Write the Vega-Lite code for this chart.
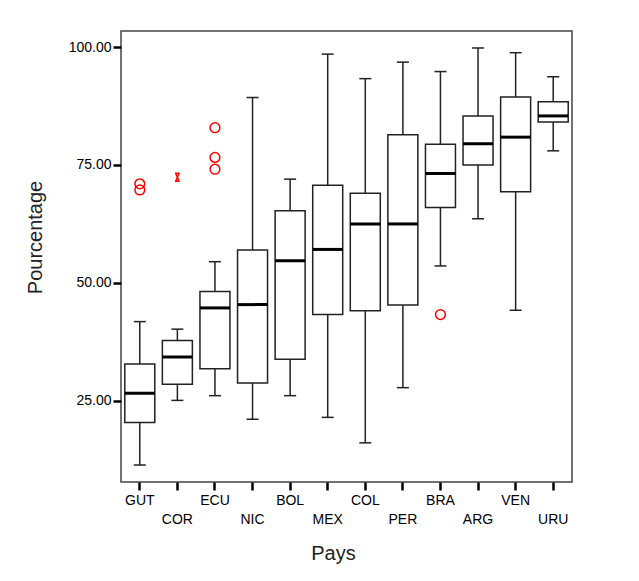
{
  "$schema": "https://vega.github.io/schema/vega-lite/v6.json",
  "width": 451,
  "height": 451,
  "autosize": {"type": "none"},
  "padding": {"left": 121, "top": 31, "right": 67, "bottom": 99},
  "background": "white",
  "config": {
    "font": "Liberation Sans",
    "view": {"stroke": "#444", "strokeWidth": 1.5},
    "axis": {"domain": false, "grid": false, "labelColor": "black", "labelFont": "Liberation Sans", "titleFont": "Liberation Sans", "titleFontWeight": "normal"}
  },
  "datasets": {
    "boxes": [
      {"pays": "GUT", "min": 11.4, "q1": 20.4, "median": 26.6, "q3": 32.8, "max": 41.8},
      {"pays": "COR", "min": 25.1, "q1": 28.5, "median": 34.3, "q3": 37.8, "max": 40.2},
      {"pays": "ECU", "min": 26.1, "q1": 31.8, "median": 44.7, "q3": 48.2, "max": 54.5},
      {"pays": "NIC", "min": 21.1, "q1": 28.8, "median": 45.4, "q3": 57.0, "max": 89.3},
      {"pays": "BOL", "min": 26.1, "q1": 33.8, "median": 54.7, "q3": 65.3, "max": 72.0},
      {"pays": "MEX", "min": 21.5, "q1": 43.3, "median": 57.1, "q3": 70.7, "max": 98.5},
      {"pays": "COL", "min": 16.1, "q1": 44.1, "median": 62.5, "q3": 69.0, "max": 93.3},
      {"pays": "PER", "min": 27.8, "q1": 45.3, "median": 62.5, "q3": 81.4, "max": 96.8},
      {"pays": "BRA", "min": 53.6, "q1": 66.0, "median": 73.2, "q3": 79.4, "max": 94.8},
      {"pays": "ARG", "min": 63.6, "q1": 75.0, "median": 79.5, "q3": 85.4, "max": 99.8},
      {"pays": "VEN", "min": 44.2, "q1": 69.3, "median": 80.9, "q3": 89.4, "max": 98.8},
      {"pays": "URU", "min": 78.0, "q1": 84.1, "median": 85.4, "q3": 88.4, "max": 93.7}
    ],
    "outliers": [
      {"pays": "GUT", "value": 71.0, "type": "outlier"},
      {"pays": "GUT", "value": 69.7, "type": "outlier"},
      {"pays": "ECU", "value": 82.9, "type": "outlier"},
      {"pays": "ECU", "value": 76.6, "type": "outlier"},
      {"pays": "ECU", "value": 74.1, "type": "outlier"},
      {"pays": "BRA", "value": 43.3, "type": "outlier"}
    ],
    "extremes": [
      {"pays": "COR", "value": 72.4, "type": "extreme"}
    ]
  },
  "encoding": {
    "x": {
      "field": "pays", "type": "nominal", "sort": null,
      "scale": {"type": "band", "paddingInner": 0, "paddingOuter": 0, "domain": ["GUT","COR","ECU","NIC","BOL","MEX","COL","PER","BRA","ARG","VEN","URU"]},
      "axis": {
        "title": "Pays", "titleFontSize": 20, "titleColor": "#222", "titleX": 212, "titleY": 71, "titleBaseline": "middle", "titleAlign": "center",
        "labelAngle": 0, "labelFontSize": 14, "labelPadding": 3, "labelBaseline": "top", "labelLineHeight": 19,
        "labelExpr": "indexof(['COR','NIC','MEX','PER','ARG','URU'], datum.value) >= 0 ? ['', datum.label] : datum.label",
        "tickSize": 8, "tickWidth": 2.5, "tickColor": "black"
      }
    }
  },
  "layer": [
    {
      "data": {"name": "boxes"},
      "mark": {"type": "rule", "color": "#222", "strokeWidth": 1.5, "opacity": 1},
      "encoding": {
        "y": {"field": "min", "type": "quantitative", "scale": {"domain": [7.8, 103.4], "nice": false, "zero": false},
          "axis": {"title": "Pourcentage", "titleFontSize": 20, "titleColor": "#222", "titleX": -86, "titleY": 206, "titleBaseline": "middle", "titleAlign": "center", "titleAngle": -90,
            "values": [25, 50, 75, 100], "format": ".2f", "labelFontSize": 14, "labelPadding": 2, "tickSize": 8, "tickWidth": 2.5, "tickColor": "black"}},
        "y2": {"field": "max"}
      }
    },
    {
      "data": {"name": "boxes"},
      "mark": {"type": "tick", "color": "#222", "size": 12, "thickness": 1.5, "opacity": 1},
      "encoding": {"y": {"field": "min", "type": "quantitative"}}
    },
    {
      "data": {"name": "boxes"},
      "mark": {"type": "tick", "color": "#222", "size": 12, "thickness": 1.5, "opacity": 1},
      "encoding": {"y": {"field": "max", "type": "quantitative"}}
    },
    {
      "data": {"name": "boxes"},
      "mark": {"type": "bar", "fill": "white", "stroke": "#222", "strokeWidth": 1.5, "size": 30, "opacity": 1},
      "encoding": {
        "y": {"field": "q1", "type": "quantitative"},
        "y2": {"field": "q3"}
      }
    },
    {
      "data": {"name": "boxes"},
      "mark": {"type": "tick", "color": "black", "size": 30, "thickness": 3, "opacity": 1},
      "encoding": {"y": {"field": "median", "type": "quantitative"}}
    },
    {
      "data": {"name": "outliers"},
      "mark": {"type": "point", "shape": "circle", "filled": false, "stroke": "red", "strokeWidth": 1.5, "size": 95, "opacity": 1},
      "encoding": {"y": {"field": "value", "type": "quantitative"}}
    },
    {
      "data": {"name": "extremes"},
      "mark": {"type": "point", "shape": "M-0.45,-1L0.45,1M0.45,-1L-0.45,1M-0.6,-1H0.6M-0.6,1H0.6", "filled": false, "stroke": "red", "strokeWidth": 1.5, "size": 64, "opacity": 1},
      "encoding": {"y": {"field": "value", "type": "quantitative"}}
    }
  ]
}
